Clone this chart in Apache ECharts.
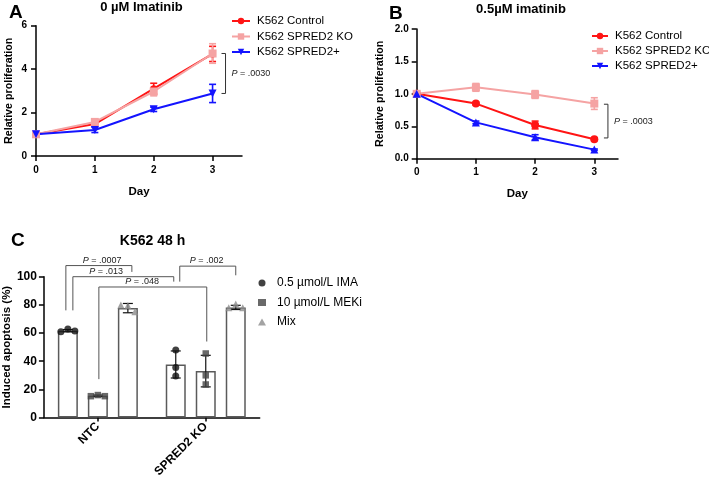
<!DOCTYPE html>
<html><head><meta charset="utf-8">
<script src="https://cdn.jsdelivr.net/npm/echarts@6/dist/echarts.min.js"></script>
<style>html,body{margin:0;padding:0;background:#fff}#c{width:709px;height:480px}</style>
</head><body><div id="c"></div>
<script>
// ---------- data ----------
const days = [0, 1, 2, 3];
const lineNames = ['K562 Control', 'K562 SPRED2 KO', 'K562 SPRED2+'];
// Panel A: 0 µM imatinib
const aControl = [1.0, 1.47, 3.10, 4.70];
const aControlErr = [0, 0.08, 0.25, 0.35];
const aKO = [1.0, 1.57, 2.97, 4.72];
const aKOErr = [0, 0.10, 0.20, 0.45];
const aPlus = [1.0, 1.20, 2.15, 2.88];
const aPlusErr = [0, 0.12, 0.10, 0.42];
// Panel B: 0.5 µM imatinib
const bControl = [1.0, 0.85, 0.52, 0.30];
const bControlErr = [0, 0.02, 0.06, 0.02];
const bKO = [1.0, 1.10, 0.99, 0.85];
const bKOErr = [0, 0.06, 0.06, 0.09];
const bPlus = [1.0, 0.56, 0.33, 0.14];
const bPlusErr = [0, 0.02, 0.04, 0.01];
const pA = '.0030';
const pB = '.0003';
// Panel C: K562 48 h induced apoptosis
const cCategories = ['NTC', 'SPRED2 KO'];
const cTreatments = ['0.5 µmol/L IMA', '10 µmol/L MEKi', 'Mix'];
const cIMA = [61.7, 37.7];
const cMEKi = [15.5, 33.0];
const cMix = [77.7, 78.2];
const cIMAsd = [0.8, 9.6];
const cMEKisd = [0.5, 11.2];
const cMixsd = [3.3, 1.5];
const cIMApts = [[61.0, 62.8, 61.4], [48.0, 35.5, 29.5]];
const cMEKipts = [[15.2, 16.0, 15.2], [45.5, 30.0, 23.5]];
const cMixpts = [[80.0, 79.6, 75.2], [78.0, 80.6, 78.0]];
const cPvalues = ['.0007', '.013', '.048', '.002'];

// ---------- styling / layout ----------
const F = 'Liberation Sans, Arial, sans-serif';
const RED = '#ff1414', PINK = '#f5a3a3', BLUE = '#1414ff';
const BAR_OFF = [-30, 0, 30];
// bracket geometry for panel C annotations: [cat, treatment] ends, level values
const cBracketGeom = [
  {a: [0, 0], b: [0, 2], top: 107.9, la: 76.1, lb: 103.4, dxa: -2, dxb: 4, frac: 0.55},
  {a: [0, 0], b: [1, 0], top: 100.0, la: 76.1, lb: 96.5, dxa: 5, dxb: -2, frac: 0.33},
  {a: [0, 1], b: [1, 1], top: 92.7, la: 27.3, lb: 54.0, dxa: 1, dxb: 1, frac: 0.40},
  {a: [1, 0], b: [1, 2], top: 107.5, la: 96.5, lb: 101.0, dxa: 4, dxb: 0, frac: 0.48}
];

function errRender(color, capW, lw, offsets) {
  return function (params, api) {
    const x = api.value(0), lo = api.value(1), hi = api.value(2);
    if (hi - lo <= 0) return null;
    const off = offsets ? offsets[api.value(3)] : 0;
    const p1 = api.coord([x, hi]), p2 = api.coord([x, lo]);
    const cx = p1[0] + off;
    const st = {stroke: color, lineWidth: lw};
    return {type: 'group', children: [
      {type: 'line', shape: {x1: cx, y1: p1[1], x2: cx, y2: p2[1]}, style: st},
      {type: 'line', shape: {x1: cx - capW, y1: p1[1], x2: cx + capW, y2: p1[1]}, style: st},
      {type: 'line', shape: {x1: cx - capW, y1: p2[1], x2: cx + capW, y2: p2[1]}, style: st}
    ]};
  };
}
function pText(val, size) {
  return {
    text: '{i|P}{n| = ' + val + '}',
    rich: {i: {fontStyle: 'italic', fontSize: size, fontFamily: F, fill: '#222'},
           n: {fontSize: size, fontFamily: F, fill: '#222'}}
  };
}
function sideBracket(pval) {
  return function (params, api) {
    const x = api.value(0);
    const p1 = api.coord([x, api.value(1)]), p2 = api.coord([x, api.value(2)]);
    const st = {stroke: '#333', lineWidth: 1, fill: null};
    return {type: 'group', children: [
      {type: 'polyline', shape: {points: [[p1[0] - 4, p1[1]], [p1[0], p1[1]], [p2[0], p2[1]], [p2[0] - 4, p2[1]]]}, style: st},
      {type: 'text', x: p1[0] + 6, y: (p1[1] + p2[1]) / 2,
        style: Object.assign(pText(pval, 9), {align: 'left', verticalAlign: 'middle'})}
    ]};
  };
}
function cBracketRender(params, api) {
  const g = cBracketGeom[api.value(2)];
  const pa = api.coord([g.a[0], g.top]), pb = api.coord([g.b[0], g.top]);
  const xa = pa[0] + BAR_OFF[g.a[1]] + g.dxa, xb = pb[0] + BAR_OFF[g.b[1]] + g.dxb;
  const yt = pa[1];
  const yla = api.coord([g.a[0], g.la])[1], ylb = api.coord([g.b[0], g.lb])[1];
  return {type: 'group', children: [
    {type: 'polyline', shape: {points: [[xa, yla], [xa, yt], [xb, yt], [xb, ylb]]},
      style: {stroke: '#555', lineWidth: 1, fill: null}},
    {type: 'text', x: xa + g.frac * (xb - xa), y: yt - 1,
      style: Object.assign(pText(cPvalues[api.value(2)], 9), {align: 'center', verticalAlign: 'bottom'})}
  ]};
}
function jitter(vals) {
  const spread = Math.max(...vals) - Math.min(...vals);
  return spread < 8 ? [-7, 0, 7] : [0, 0, 0];
}

const axisLineStyle = {show: true, lineStyle: {color: '#000', width: 1.5}};
const tickStyle = {show: true, length: 5, lineStyle: {color: '#000', width: 1.5}};
const labelA = {fontFamily: F, fontWeight: 'bold', fontSize: 10, color: '#000', margin: 9};
const nameStyle = (s) => ({fontFamily: F, fontWeight: 'bold', fontSize: s, color: '#000'});

function lineSeries(name, data, color, symbol, size, xi, rot) {
  return {name: name, type: 'line', xAxisIndex: xi, yAxisIndex: xi,
    data: days.map((d, i) => [d, data[i]]),
    symbol: symbol, symbolSize: size, symbolRotate: rot || 0,
    lineStyle: {color: color, width: 2}, itemStyle: {color: color},
    z: 4, animation: false};
}
function errSeries(vals, errs, color, xi) {
  return {type: 'custom', xAxisIndex: xi, yAxisIndex: xi, silent: true, z: 3,
    renderItem: errRender(color, 3.5, 1.6),
    data: days.map((d, i) => [d, vals[i] - errs[i], vals[i] + errs[i]]),
    encode: {x: 0, y: [1, 2]}};
}

const cBars = [cIMA, cMEKi, cMix];
const cSds = [cIMAsd, cMEKisd, cMixsd];
const cPts = [cIMApts, cMEKipts, cMixpts];
const cSym = ['circle', 'rect', 'triangle'];
const cSymSize = [7, 6.5, 7];
const cCol = ['#111111', '#444444', '#8c8c8c'];

const series = [
  lineSeries(lineNames[0], aControl, RED, 'circle', 7, 0),
  lineSeries(lineNames[1], aKO, PINK, 'rect', 8, 0),
  lineSeries(lineNames[2], aPlus, BLUE, 'triangle', 8, 0, 180),
  errSeries(aControl, aControlErr, RED, 0),
  errSeries(aKO, aKOErr, PINK, 0),
  errSeries(aPlus, aPlusErr, BLUE, 0),
  {type: 'custom', xAxisIndex: 0, yAxisIndex: 0, silent: true, renderItem: sideBracket(pA),
    data: [[3.22, aKO[3], aPlus[3]]], encode: {x: 0, y: [1, 2]}},
  lineSeries(lineNames[0], bControl, RED, 'circle', 8, 1),
  lineSeries(lineNames[1], bKO, PINK, 'rect', 8, 1),
  lineSeries(lineNames[2], bPlus, BLUE, 'triangle', 8, 1),
  errSeries(bControl, bControlErr, RED, 1),
  errSeries(bKO, bKOErr, PINK, 1),
  errSeries(bPlus, bPlusErr, BLUE, 1),
  {type: 'custom', xAxisIndex: 1, yAxisIndex: 1, silent: true, renderItem: sideBracket(pB),
    data: [[3.23, bKO[3] - 0.01, bControl[3] + 0.02]], encode: {x: 0, y: [1, 2]}}
];
cBars.forEach((vals, t) => {
  series.push({name: 'bar ' + t, type: 'bar', xAxisIndex: 2, yAxisIndex: 2, data: vals,
    barWidth: 20, barGap: '50%', z: 2,
    itemStyle: {color: '#ffffff', borderColor: '#5a5a5a', borderWidth: 1.5}});
});
cBars.forEach((vals, t) => {
  series.push({type: 'custom', xAxisIndex: 2, yAxisIndex: 2, silent: true, z: 3,
    renderItem: errRender('#111', 5, 1.2, BAR_OFF),
    data: vals.map((v, ci) => [ci, v - cSds[t][ci], v + cSds[t][ci], t]),
    encode: {x: 0, y: [1, 2]}});
});
cPts.forEach((pts, t) => {
  const data = [];
  pts.forEach((grp, ci) => {
    const j = jitter(grp);
    grp.forEach((v, k) => data.push({value: [ci, v], symbolOffset: [BAR_OFF[t] + j[k], 0]}));
  });
  series.push({name: cTreatments[t], type: 'scatter', xAxisIndex: 2, yAxisIndex: 2, z: 5,
    symbol: cSym[t], symbolSize: cSymSize[t], itemStyle: {color: cCol[t]}, data: data});
});
series.push({type: 'custom', xAxisIndex: 2, yAxisIndex: 2, silent: true, z: 6,
  renderItem: cBracketRender,
  data: cBracketGeom.map((g, i) => [g.a[0], g.top, i]), encode: {x: 0, y: 1}});

const option = {
  animation: false,
  backgroundColor: '#fff',
  textStyle: {fontFamily: F},
  title: [
    {text: 'A', left: 9, top: 3, padding: 0, textStyle: {fontFamily: F, fontSize: 19, fontWeight: 'bold', color: '#000'}},
    {text: '0 µM Imatinib', left: 141.5, top: 0.5, padding: 0, textAlign: 'center', textStyle: {fontFamily: F, fontSize: 13, fontWeight: 'bold', color: '#000'}},
    {text: 'B', left: 389, top: 4.5, padding: 0, textStyle: {fontFamily: F, fontSize: 19, fontWeight: 'bold', color: '#000'}},
    {text: '0.5µM imatinib', left: 521, top: 3, padding: 0, textAlign: 'center', textStyle: {fontFamily: F, fontSize: 13, fontWeight: 'bold', color: '#000'}},
    {text: 'C', left: 11, top: 231.5, padding: 0, textStyle: {fontFamily: F, fontSize: 19, fontWeight: 'bold', color: '#000'}},
    {text: 'K562 48 h', left: 152.5, top: 234.5, padding: 0, textAlign: 'center', textStyle: {fontFamily: F, fontSize: 14, fontWeight: 'bold', color: '#000'}}
  ],
  legend: [
    {data: lineNames, orient: 'vertical', left: 231, top: 14, padding: 0, itemGap: 1.5,
      itemWidth: 18, itemHeight: 8, selectedMode: false,
      textStyle: {fontFamily: F, fontSize: 11.5, color: '#000', lineHeight: 14, padding: [0, 0, 0, 2]}},
    {data: lineNames, orient: 'vertical', left: 591, top: 29, padding: 0, itemGap: 1,
      itemWidth: 16, itemHeight: 8, selectedMode: false,
      textStyle: {fontFamily: F, fontSize: 11.5, color: '#000', lineHeight: 14, padding: [0, 0, 0, 2]}},
    {data: cTreatments, orient: 'vertical', left: 258, top: 276, padding: 0, itemGap: 5.5,
      itemWidth: 8, itemHeight: 7, selectedMode: false,
      textStyle: {fontFamily: F, fontSize: 12, color: '#000', lineHeight: 14, padding: [0, 0, 0, 6]}}
  ],
  grid: [
    {left: 36, top: 25.7, width: 206, height: 130.3},
    {left: 416.7, top: 29, width: 201.3, height: 129.7},
    {left: 40.7, top: 276.7, width: 219, height: 146.6}
  ],
  xAxis: [
    {type: 'value', gridIndex: 0, min: 0, max: 3.5, interval: 1, axisLine: axisLineStyle,
      axisTick: Object.assign({customValues: days}, tickStyle), splitLine: {show: false},
      axisLabel: Object.assign({customValues: days}, labelA),
      name: 'Day', nameLocation: 'middle', nameGap: 30, nameTextStyle: nameStyle(11.5)},
    {type: 'value', gridIndex: 1, min: 0, max: 3.4, interval: 1, axisLine: axisLineStyle,
      axisTick: Object.assign({customValues: days}, tickStyle), splitLine: {show: false},
      axisLabel: Object.assign({customValues: days}, labelA),
      name: 'Day', nameLocation: 'middle', nameGap: 29, nameTextStyle: nameStyle(11.5)},
    {type: 'category', gridIndex: 2, data: cCategories, axisLine: axisLineStyle,
      axisTick: {show: true, alignWithLabel: true, length: 4, lineStyle: {color: '#000', width: 1.5}},
      axisLabel: {fontFamily: F, fontWeight: 'bold', fontSize: 12, color: '#000', rotate: 45, margin: 7}}
  ],
  yAxis: [
    {type: 'value', gridIndex: 0, min: 0, max: 6, interval: 2, axisLine: axisLineStyle,
      axisTick: tickStyle, splitLine: {show: false}, axisLabel: labelA,
      name: 'Relative proliferation', nameLocation: 'middle', nameGap: 21, nameTextStyle: nameStyle(10.7)},
    {type: 'value', gridIndex: 1, min: 0, max: 2, interval: 0.5, axisLine: axisLineStyle,
      axisTick: tickStyle, splitLine: {show: false},
      axisLabel: Object.assign({formatter: (v) => v.toFixed(1)}, labelA, {margin: 8}),
      name: 'Relative proliferation', nameLocation: 'middle', nameGap: 31, nameTextStyle: nameStyle(10.7)},
    {type: 'value', gridIndex: 2, min: 0, max: 100, interval: 20, axisLine: axisLineStyle,
      axisTick: tickStyle, splitLine: {show: false},
      axisLabel: {fontFamily: F, fontWeight: 'bold', fontSize: 12, color: '#000', margin: 7},
      name: 'Induced apoptosis (%)', nameLocation: 'middle', nameGap: 27, nameTextStyle: nameStyle(11.5)}
  ],
  series: series
};
const chart = echarts.init(document.getElementById('c'), null, {renderer: 'canvas'});
chart.setOption(option);
</script>
</body></html>
